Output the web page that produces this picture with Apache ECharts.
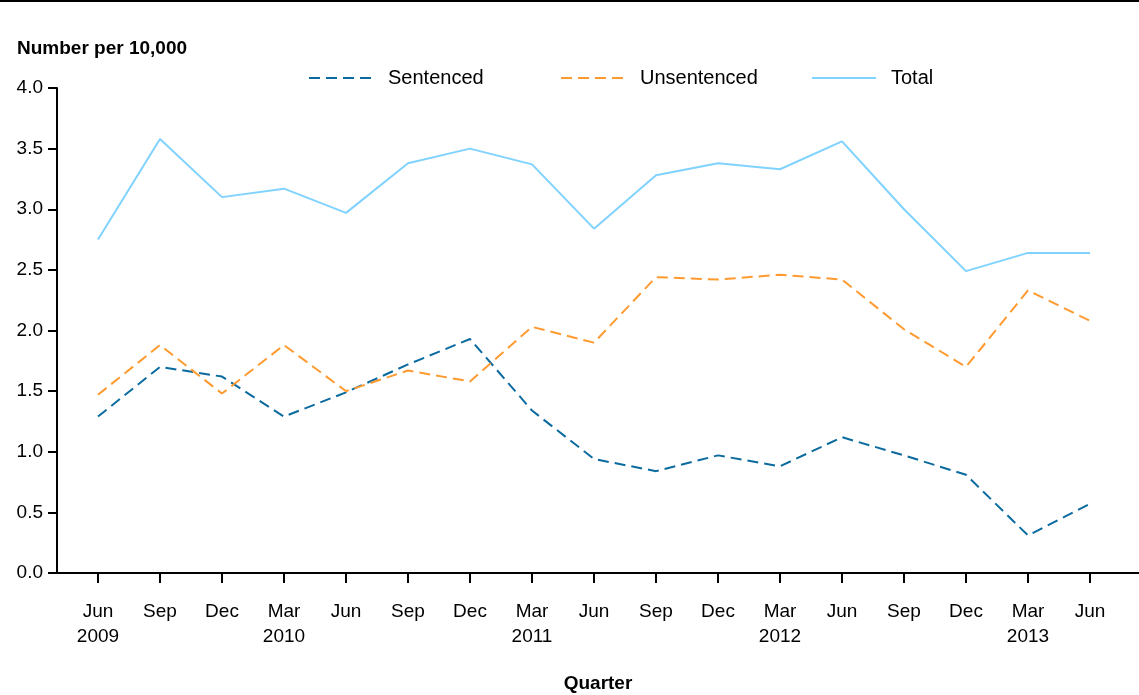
<!DOCTYPE html>
<html>
<head>
<meta charset="utf-8">
<title>Number per 10,000 by quarter</title>
<script src="https://cdn.jsdelivr.net/npm/echarts@6/dist/echarts.min.js"></script>
<style>
  html, body { margin: 0; padding: 0; background: #fff; }
  #chart { width: 1139px; height: 695px; }
</style>
</head>
<body>
<div id="chart"></div>
<script>
// 季度标签
const quarters = [
  'Jun\n2009', 'Sep', 'Dec', 'Mar\n2010', 'Jun', 'Sep', 'Dec', 'Mar\n2011', 'Jun',
  'Sep', 'Dec', 'Mar\n2012', 'Jun', 'Sep', 'Dec', 'Mar\n2013', 'Jun'
];

// 每万人数量
const sentenced = [1.29, 1.70, 1.62, 1.29, 1.49, 1.72, 1.93, 1.34, 0.94, 0.84, 0.97, 0.88, 1.12, 0.97, 0.81, 0.31, 0.57];
const unsentenced = [1.47, 1.88, 1.48, 1.88, 1.50, 1.67, 1.58, 2.03, 1.90, 2.44, 2.42, 2.46, 2.42, 2.01, 1.70, 2.33, 2.08];
const total = [2.75, 3.58, 3.10, 3.17, 2.97, 3.38, 3.50, 3.37, 2.84, 3.28, 3.38, 3.33, 3.56, 3.00, 2.49, 2.64, 2.64];

const FONT = '"Liberation Sans", Arial, sans-serif';
const tickIdx = quarters.map((_, i) => i);
const toPairs = arr => arr.map((v, i) => [i, v]);

const chart = echarts.init(document.getElementById('chart'), null, { renderer: 'canvas' });

// 图例公共样式（不显示中间的圆点）
const legendBase = {
  top: 63,
  itemWidth: 64,
  itemHeight: 14,
  itemStyle: { opacity: 0 },
  textStyle: { fontFamily: FONT, fontSize: 20, color: '#000', padding: [0, 0, 0, 10] }
};

const option = {
  animation: false,
  backgroundColor: '#fff',
  title: {
    text: 'Number per 10,000',
    left: 12,
    top: 34,
    textStyle: { fontFamily: FONT, fontSize: 19, fontWeight: 'bold', color: '#000' }
  },
  legend: [
    { ...legendBase, left: 303, data: ['Sentenced'] },
    { ...legendBase, left: 555, data: ['Unsentenced'] },
    { ...legendBase, left: 806, data: ['Total'] }
  ],
  graphic: [
    {
      type: 'line',
      shape: { x1: 0, y1: 1, x2: 1139, y2: 1 },
      style: { stroke: '#000', lineWidth: 2 }
    }
  ],
  grid: {
    left: 57,
    right: 0,
    top: 88,
    bottom: 122,
    outerBoundsMode: 'none'
  },
  xAxis: {
    type: 'value',
    min: -41 / 62,
    max: 16 + 49 / 62,
    name: 'Quarter',
    nameLocation: 'middle',
    nameGap: 101,
    nameTextStyle: { fontFamily: FONT, fontSize: 19, fontWeight: 'bold', color: '#000' },
    splitLine: { show: false },
    axisLine: { show: true, onZero: false, lineStyle: { color: '#000', width: 2 } },
    axisTick: {
      show: true,
      length: 10,
      customValues: tickIdx,
      lineStyle: { color: '#000', width: 2 }
    },
    axisLabel: {
      customValues: tickIdx,
      margin: 26,
      lineHeight: 25,
      fontFamily: FONT,
      fontSize: 19,
      color: '#000',
      formatter: v => quarters[Math.round(v)] || ''
    }
  },
  yAxis: {
    type: 'value',
    min: 0,
    max: 4,
    interval: 0.5,
    splitLine: { show: false },
    axisLine: { show: true, onZero: false, lineStyle: { color: '#000', width: 2 } },
    axisTick: { show: true, length: 9, lineStyle: { color: '#000', width: 2 } },
    axisLabel: {
      margin: 14,
      fontFamily: FONT,
      fontSize: 19,
      color: '#000',
      formatter: v => v.toFixed(1)
    }
  },
  series: [
    {
      name: 'Sentenced',
      type: 'line',
      data: toPairs(sentenced),
      symbol: 'none',
      color: '#0b6b9f',
      lineStyle: { color: '#0b6b9f', width: 2, type: [11, 6] }
    },
    {
      name: 'Unsentenced',
      type: 'line',
      data: toPairs(unsentenced),
      symbol: 'none',
      color: '#ff9a30',
      lineStyle: { color: '#ff9a30', width: 2, type: [11, 6] }
    },
    {
      name: 'Total',
      type: 'line',
      data: toPairs(total),
      symbol: 'none',
      color: '#80d2ff',
      lineStyle: { color: '#80d2ff', width: 2 }
    }
  ]
};

chart.setOption(option);
</script>
</body>
</html>
